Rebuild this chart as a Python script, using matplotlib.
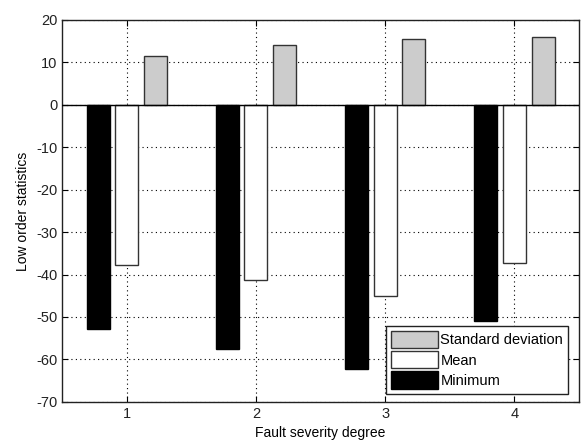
import numpy as np
from matplotlib import pyplot as plt
from matplotlib.patches import Patch

plt.rcParams['font.family'] = ['Liberation Sans', 'DejaVu Sans']
plt.rcParams['axes.unicode_minus'] = False

# data
degrees = [1, 2, 3, 4]
minimum = [-52.8, -57.5, -62.2, -50.9]
mean = [-37.7, -41.4, -45.0, -37.3]
std_dev = [11.6, 14.2, 15.4, 15.9]

fig = plt.figure(figsize=(5.86, 4.44), dpi=100)
ax = fig.add_axes([0.106, 0.095, 0.882, 0.860])

x = np.array(degrees)
step = 0.222
w = 0.178
ax.bar(x - step, minimum, width=w, color='black', edgecolor='black', linewidth=1, zorder=2)
ax.bar(x, mean, width=w, color='white', edgecolor='#333333', linewidth=1, zorder=2)
ax.bar(x + step, std_dev, width=w, color='#cccccc', edgecolor='#333333', linewidth=1, zorder=2)
ax.axhline(0, color='black', linewidth=1, zorder=3)

ax.set_xlim(0.5, 4.5)
ax.set_ylim(-70, 20)
ax.set_xticks(degrees)
ax.set_yticks(range(-70, 21, 10))
ax.tick_params(direction='in', top=True, right=True, labelsize=10.5, length=4, colors='black')
for t in ax.get_xticklabels() + ax.get_yticklabels():
    t.set_color('#222222')

ax.grid(True, linestyle=(0, (1, 3)), color='black', linewidth=0.8, zorder=0)
ax.set_axisbelow(True)
for s in ax.spines.values():
    s.set_linewidth(1)
    s.set_color('#222222')

ax.set_xlabel('Fault severity degree', fontsize=10, labelpad=4)
ax.set_ylabel('Low order statistics', fontsize=10, labelpad=4)

# 图例
handles = [Patch(facecolor='#cccccc', edgecolor='#333333', label='Standard deviation'),
           Patch(facecolor='white', edgecolor='#333333', label='Mean'),
           Patch(facecolor='black', edgecolor='black', label='Minimum')]
leg = ax.legend(handles=handles, loc='lower right', fontsize=10.5, fancybox=False,
                framealpha=1, edgecolor='#222222', handlelength=3.2, handleheight=1.45,
                handletextpad=0.15, labelspacing=0.2, borderpad=0.35, borderaxespad=0,
                bbox_to_anchor=(0.979, 0.021))
leg.get_frame().set_linewidth(1)

plt.savefig('out.png')
